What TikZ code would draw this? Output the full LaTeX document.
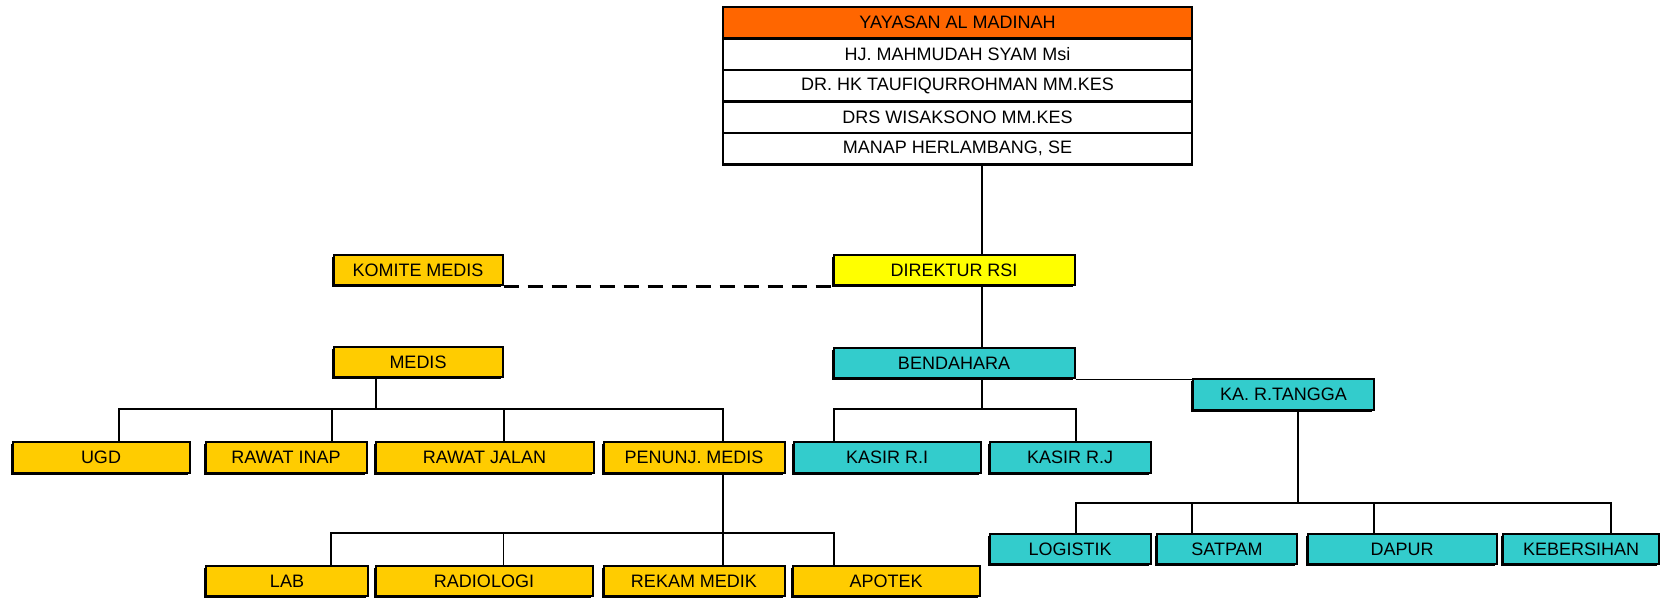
\documentclass[tikz,border=0pt]{standalone}
\usepackage{fontspec}
\setmainfont{Liberation Sans}
\usetikzlibrary{shadows}
\definecolor{oranye}{HTML}{FF6600}
\definecolor{kuning}{HTML}{FFFF00}
\definecolor{emas}{HTML}{FFCC00}
\definecolor{tosca}{HTML}{33CCCC}
\begin{document}
\begin{tikzpicture}[x=1pt, y=-1pt,
    row/.style={rectangle, draw, line width=2.5pt, minimum width=469pt, minimum height=31.5pt, inner sep=0pt, font=\fontsize{18}{20}\selectfont},
    unit/.style={rectangle, draw, line width=2pt, inner sep=0pt, minimum height=30.5pt, font=\fontsize{18}{20}\selectfont,
        general shadow={fill=black, shadow xshift=-2pt, shadow yshift=-2pt}},
    link/.style={line width=1.3pt}
]
    \useasboundingbox (0,0) rectangle (1662,598);

    % Pengurus yayasan
    \node[row, fill=oranye] (yayasan) at (957.5,22.5) {YAYASAN AL MADINAH};
    \node[row, fill=white] (hjm) at (957.5,54) {HJ. MAHMUDAH SYAM Msi};
    \node[row, fill=white] (drhk) at (957.5,85.5) {DR. HK TAUFIQURROHMAN MM.KES};
    \node[row, fill=white] (drsw) at (957.5,117) {DRS WISAKSONO MM.KES};
    \node[row, fill=white] (manap) at (957.5,148.5) {MANAP HERLAMBANG, SE};

    % Direksi
    \node[unit, fill=emas, minimum width=169pt] (komite) at (418,270) {KOMITE MEDIS};
    \node[unit, fill=kuning, minimum width=241pt] (direktur) at (954,270) {DIREKTUR RSI};
    \node[unit, fill=emas, minimum width=169pt] (medis) at (418,362) {MEDIS};
    \node[unit, fill=tosca, minimum width=241pt] (bendahara) at (954,363) {BENDAHARA};
    \node[unit, fill=tosca, minimum width=181pt] (kartangga) at (1283.5,394.5) {KA. R.TANGGA};

    % Unit pelayanan
    \node[unit, fill=emas, minimum width=177pt] (ugd) at (101,457.5) {UGD};
    \node[unit, fill=emas, minimum width=161pt] (rawatinap) at (286,457.5) {RAWAT INAP};
    \node[unit, fill=emas, minimum width=218pt] (rawatjalan) at (484.5,457.5) {RAWAT JALAN};
    \node[unit, fill=emas, minimum width=181pt] (penunjang) at (694,457.5) {PENUNJ. MEDIS};
    \node[unit, fill=tosca, minimum width=187pt] (kasirri) at (887,457.5) {KASIR R.I};
    \node[unit, fill=tosca, minimum width=161pt] (kasirrj) at (1070,457.5) {KASIR R.J};

    % Penunjang medis
    \node[unit, fill=emas, minimum width=162pt] (lab) at (287,581) {LAB};
    \node[unit, fill=emas, minimum width=217pt] (radiologi) at (484,581) {RADIOLOGI};
    \node[unit, fill=emas, minimum width=181pt] (rekam) at (694,581) {REKAM MEDIK};
    \node[unit, fill=emas, minimum width=187pt] (apotek) at (886,581) {APOTEK};

    % Rumah tangga
    \node[unit, fill=tosca, minimum width=161pt] (logistik) at (1070,549) {LOGISTIK};
    \node[unit, fill=tosca, minimum width=140pt] (satpam) at (1227,549) {SATPAM};
    \node[unit, fill=tosca, minimum width=189pt] (dapur) at (1402,549) {DAPUR};
    \node[unit, fill=tosca, minimum width=156pt] (kebersihan) at (1581,549) {KEBERSIHAN};

    % Titik cabang
    \coordinate (busmedis) at (376,409);
    \coordinate (busbendahara) at (982,409);
    \coordinate (buspenunjang) at (723,533);
    \coordinate (bustangga) at (1298,503);

    % Garis
    \draw[link] (busbendahara |- manap.south) -- (busbendahara |- direktur.north);
    \draw[line width=3pt, dash pattern=on 15pt off 9pt] (komite.south east) -- (komite.south east -| direktur.west);
    \draw[link] (busbendahara |- direktur.south) -- (busbendahara |- bendahara.north);
    \draw[link] (busbendahara |- bendahara.south) -- (busbendahara);
    \draw[link] ([xshift=-53pt]kasirri.north) |- (busbendahara);
    \draw[link] ([xshift=6pt]kasirrj.north) |- (busbendahara);
    \draw[link] (bendahara.south east) -- (bendahara.south east -| kartangga.west);

    \draw[link] (busmedis |- medis.south) -- (busmedis);
    \draw[link] ([xshift=18pt]ugd.north) |- (busmedis);
    \draw[link] ([xshift=46pt]rawatinap.north) |- (busmedis);
    \draw[link] ([xshift=19.5pt]rawatjalan.north) |- (busmedis);
    \draw[link] ([xshift=29pt]penunjang.north) |- (busmedis);

    \draw[link] (buspenunjang |- penunjang.south) -- (buspenunjang);
    \draw[link] ([xshift=44pt]lab.north) |- (buspenunjang);
    \draw[link] ([xshift=19.5pt]radiologi.north) |- (buspenunjang);
    \draw[link] ([xshift=29pt]rekam.north) |- (buspenunjang);
    \draw[link] ([xshift=-52pt]apotek.north) |- (buspenunjang);

    \draw[link] (bustangga |- kartangga.south) -- (bustangga);
    \draw[link] ([xshift=6pt]logistik.north) |- (bustangga);
    \draw[link] ([xshift=-35pt]satpam.north) |- (bustangga);
    \draw[link] ([xshift=-28pt]dapur.north) |- (bustangga);
    \draw[link] ([xshift=30pt]kebersihan.north) |- (bustangga);
\end{tikzpicture}
\end{document}
